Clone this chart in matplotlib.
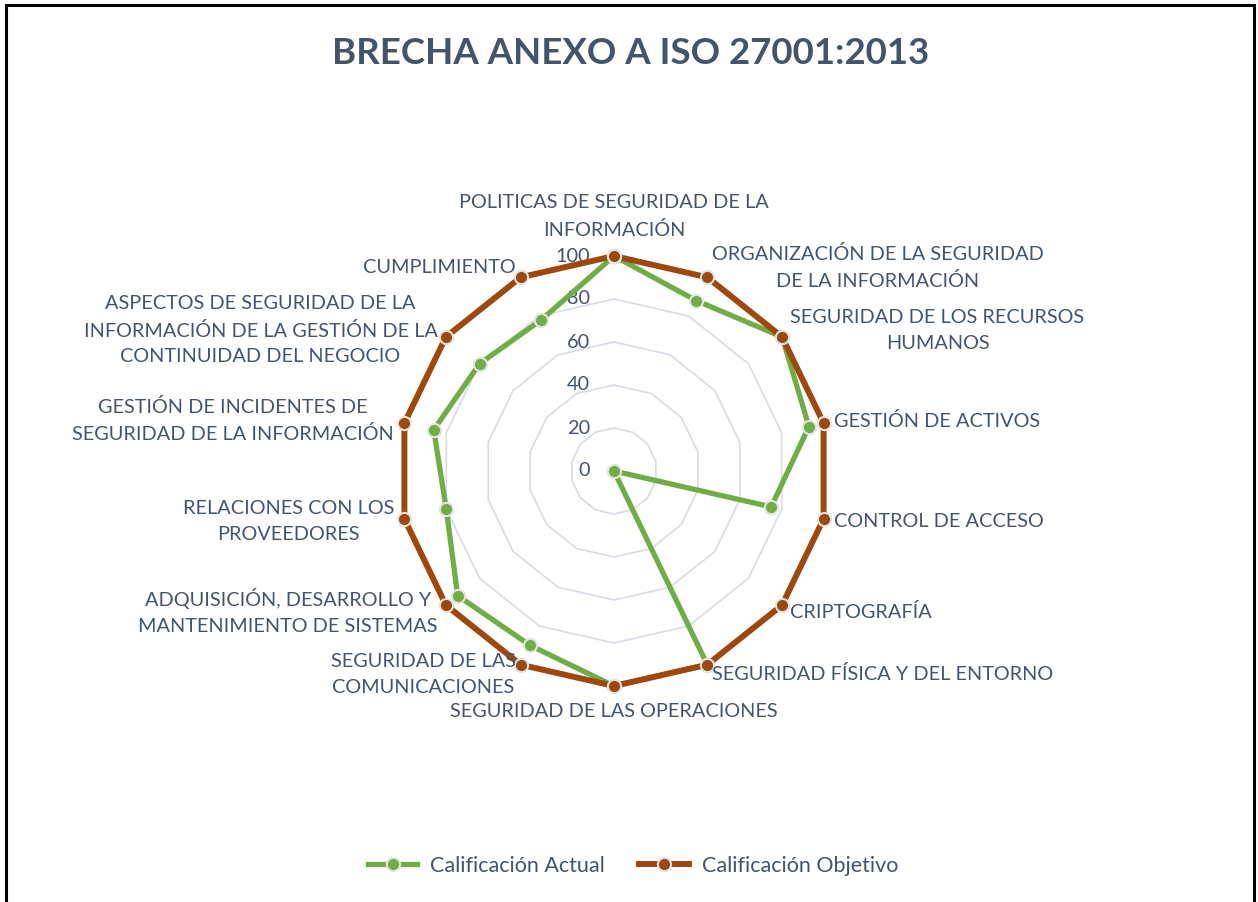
import numpy as np
import matplotlib
matplotlib.use("Agg")
import matplotlib.pyplot as plt
from matplotlib.patches import Rectangle
from matplotlib.lines import Line2D
from matplotlib.transforms import offset_copy

# ---------------- data ----------------
categories = [
    "POLITICAS DE SEGURIDAD DE LA\nINFORMACIÓN",
    "ORGANIZACIÓN DE LA SEGURIDAD\nDE LA INFORMACIÓN",
    "SEGURIDAD DE LOS RECURSOS\nHUMANOS",
    "GESTIÓN DE ACTIVOS",
    "CONTROL DE ACCESO",
    "CRIPTOGRAFÍA",
    "SEGURIDAD FÍSICA Y DEL ENTORNO",
    "SEGURIDAD DE LAS OPERACIONES",
    "SEGURIDAD DE LAS\nCOMUNICACIONES",
    "ADQUISICIÓN, DESARROLLO Y\nMANTENIMIENTO DE SISTEMAS",
    "RELACIONES CON LOS\nPROVEEDORES",
    "GESTIÓN DE INCIDENTES DE\nSEGURIDAD DE LA INFORMACIÓN",
    "ASPECTOS DE SEGURIDAD DE LA\nINFORMACIÓN DE LA GESTIÓN DE LA\nCONTINUIDAD DEL NEGOCIO",
    "CUMPLIMIENTO",
]
actual = [100, 88, 100, 93, 75, 0, 100, 100, 90, 93, 80, 86, 80, 78]
objetivo = [100, 100, 100, 100, 100, 100, 100, 100, 100, 100, 100, 100, 100, 100]
radial_ticks = [0, 20, 40, 60, 80, 100]
series_names = ["Calificación Actual", "Calificación Objetivo"]
title = "BRECHA ANEXO A ISO 27001:2013"

# ---------------- style ----------------
FONT = ["Lato", "DejaVu Sans"]
TXT = "#44546A"
GREEN = "#70AD47"
BROWN = "#9E480E"
GRID = "#D6DCE5"
EDGE = "#E3E3E3"
LBL_SIZE = 14.3

plt.rcParams["font.family"] = FONT

W, H = 1258, 902
fig = plt.figure(figsize=(W / 100, H / 100), dpi=100)
fig.patch.set_facecolor("white")

cx, cy, R = 614, 471, 215
ax = fig.add_axes([(cx - R) / W, (H - cy - R) / H, 2 * R / W, 2 * R / H],
                  projection="polar")
ax.set_theta_zero_location("N")
ax.set_theta_direction(-1)
ax.set_ylim(0, 100)
ax.set_axis_off()

n = len(categories)
theta = np.linspace(0, 2 * np.pi, n, endpoint=False)
theta_c = np.append(theta, theta[0])

# polygon grid
for r in radial_ticks[1:]:
    ax.plot(theta_c, [r] * (n + 1), color=GRID, lw=1.2, zorder=1, clip_on=False)

# radial tick labels
tr = offset_copy(ax.transData, fig=fig, x=-24, y=0, units="dots")
for r in radial_ticks:
    ax.text(0, r, str(r), transform=tr, ha="right", va="center",
            fontsize=LBL_SIZE, color=TXT, zorder=2)

# series
def closed(v):
    return list(v) + [v[0]]

l1, = ax.plot(theta_c, closed(actual), color=GREEN, lw=3.8, marker="o",
              markersize=9.5, markerfacecolor=GREEN, markeredgecolor=EDGE,
              markeredgewidth=1.5, zorder=3, clip_on=False)
l2, = ax.plot(theta_c, closed(objetivo), color=BROWN, lw=4.3, marker="o",
              markersize=9.5, markerfacecolor=BROWN, markeredgecolor=EDGE,
              markeredgewidth=1.5, zorder=4, clip_on=False)

# category labels
for t, lab in zip(theta, categories):
    s, c = np.sin(t), np.cos(t)
    if abs(s) < 1e-6:
        ha = "center"
        va = "bottom" if c > 0 else "top"
        rl = 108
    else:
        ha = "left" if s > 0 else "right"
        va = "center"
        rl = 105
    ax.text(t, rl, lab, ha=ha, va=va, multialignment="center",
            fontsize=LBL_SIZE, color=TXT, linespacing=1.62, zorder=5)

# title
fig.text(631 / W, 1 - 53 / H, title, ha="center", va="center",
         fontsize=26.4, fontweight="bold", color=TXT)

# legend
h1 = Line2D([], [], color=GREEN, lw=3.8, marker="o", markersize=9.5,
            markerfacecolor=GREEN, markeredgecolor=EDGE, markeredgewidth=1.5)
h2 = Line2D([], [], color=BROWN, lw=4.3, marker="o", markersize=9.5,
            markerfacecolor=BROWN, markeredgecolor=EDGE, markeredgewidth=1.5)
fig.legend([h1, h2], series_names, loc="center", bbox_to_anchor=(633 / W, 1 - 866 / H),
           ncol=2, frameon=False, fontsize=15.5, labelcolor=TXT,
           handlelength=2.3, handletextpad=0.6, columnspacing=1.6, numpoints=1)

# chart border
fig.patches.append(Rectangle((6 / W, -0.1), (1254 - 6) / W, 1.1 - 5 / H,
                             transform=fig.transFigure, fill=False,
                             edgecolor="black", lw=2.2))

fig.savefig("out.png", dpi=100, facecolor="white")
